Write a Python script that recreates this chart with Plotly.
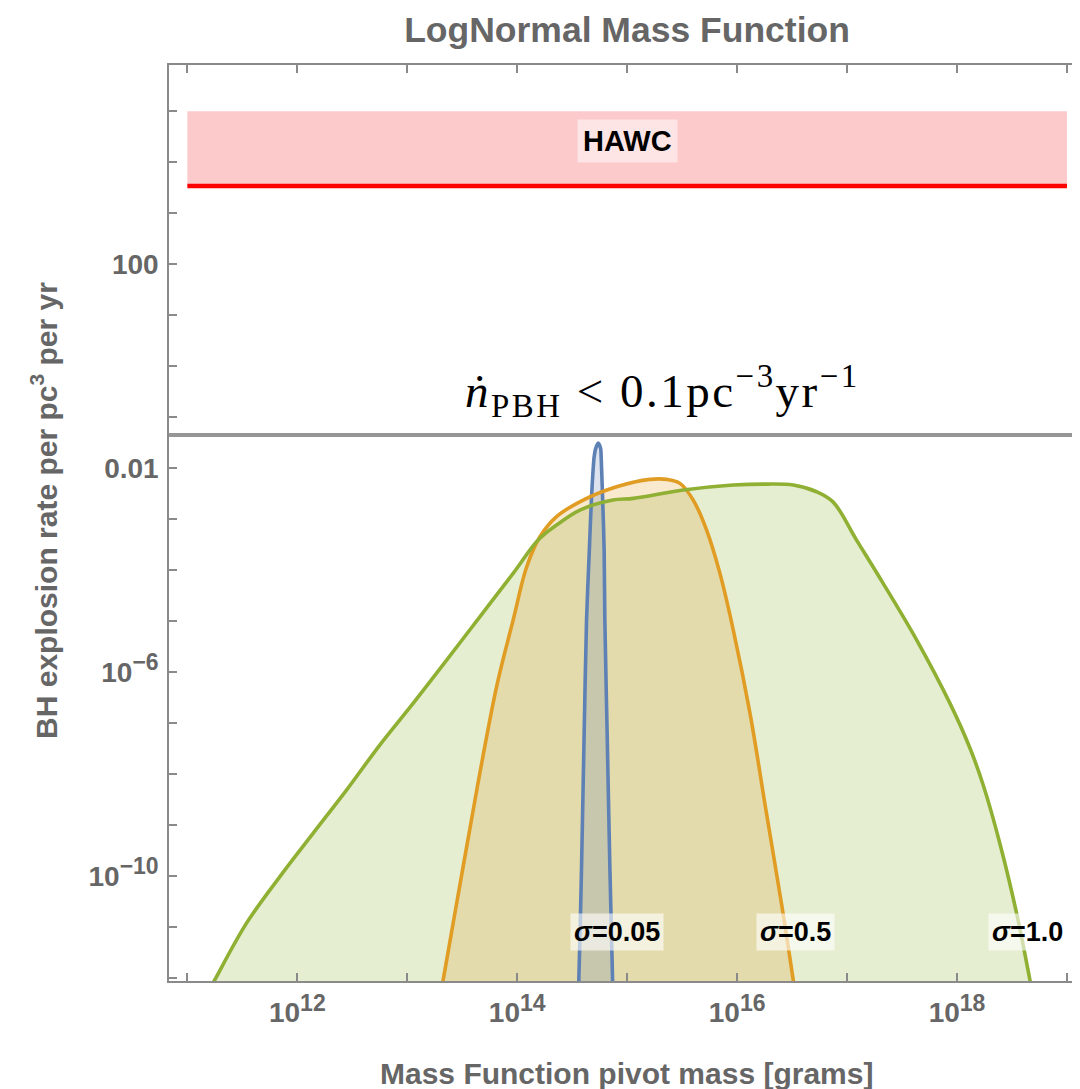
import math
import plotly.graph_objects as go

# ---------------- data ----------------
# sigma = 1.0 (green)
green_mass = [1.41e11, 1.77e11, 3.44e11, 6.92e11, 1.39e12, 2.80e12, 5.62e12, 1.13e13,
              2.28e13, 4.57e13, 9.18e13, 1.55e14, 2.28e14, 3.72e14, 7.41e14, 1.14e15,
              3.24e15, 9.23e15, 1.85e16, 3.24e16, 5.28e16, 7.48e16, 1.22e17, 2.13e17,
              4.30e17, 8.63e17, 1.31e18, 1.73e18, 2.46e18, 3.49e18, 4.61e18, 5.01e18]
green_rate = [3.76e-13, 9.27e-13, 1.20e-11, 9.82e-11, 6.97e-10, 4.92e-9, 3.76e-8, 2.47e-7,
              1.74e-6, 1.23e-5, 8.73e-5, 3.93e-4, 7.73e-4, 1.52e-3, 2.39e-3, 2.58e-3,
              3.76e-3, 4.71e-3, 4.92e-3, 4.71e-3, 3.48e-3, 2.18e-3, 3.93e-4, 5.56e-5,
              4.30e-6, 2.47e-7, 3.30e-8, 6.19e-9, 4.34e-10, 1.86e-11, 9.16e-13, 3.55e-13]

# sigma = 0.5 (orange)
orange_mass = [1.97e13, 2.12e13, 3.22e13, 4.57e13, 6.49e13, 9.18e13, 1.22e14, 1.61e14,
               2.28e14, 3.98e14, 8.02e14, 1.61e15, 2.29e15, 3.02e15, 3.99e15, 5.28e15,
               6.98e15, 9.23e15, 1.31e16, 1.85e16, 2.62e16, 3.24e16, 3.45e16]
orange_rate = [3.76e-13, 9.27e-13, 1.54e-10, 1.05e-8, 5.22e-7, 1.06e-5, 1.18e-4, 4.56e-4,
               1.13e-3, 2.39e-3, 4.36e-3, 6.08e-3, 6.08e-3, 5.08e-3, 2.39e-3, 6.17e-4,
               8.73e-5, 6.75e-6, 1.57e-7, 1.72e-9, 1.88e-11, 9.27e-13, 3.76e-13]

# sigma = 0.05 (blue)
blue_mass = [3.558e14, 3.634e14, 3.846e14, 4.062e14, 4.271e14, 4.529e14, 4.743e14, 5.009e14,
             5.168e14, 5.447e14, 5.740e14, 5.799e14, 5.973e14, 6.176e14, 6.267e14, 6.577e14,
             6.960e14, 7.366e14, 7.413e14]
blue_rate = [3.76e-13, 9.27e-13, 1.54e-10, 6.37e-8, 1.06e-5, 2.50e-4, 2.77e-3, 1.69e-2,
             2.44e-2, 3.13e-2, 2.44e-2, 1.69e-2, 2.77e-3, 2.50e-4, 1.06e-5, 6.37e-8,
             1.54e-10, 9.27e-13, 3.76e-13]

# HAWC limit band
hawc_mass = [1e11, 1e19]
hawc_limit = 3430.0
hawc_top = 1e5

# grey reference line
npbh_limit = 0.045
npbh_mass = [1e10, 1e20]

# labels
sigma_labels = ["<i>σ</i>=0.05", "<i>σ</i>=0.5", "<i>σ</i>=1.0"]
sigma_label_mass = [8.15e14, 3.43e16, 1.91e18]
sigma_label_rate = 8.1e-12

SUP = "<sup><span style='font-size:23px'>{}</span></sup>"
x_tick_vals = [1e11, 1e12, 1e13, 1e14, 1e15, 1e16, 1e17, 1e18, 1e19]
x_tick_text = ["", "10" + SUP.format("12"), "", "10" + SUP.format("14"), "",
               "10" + SUP.format("16"), "", "10" + SUP.format("18"), ""]
y_tick_vals = [10.0 ** k for k in range(-12, 6)]
y_tick_labels = {2: "100", -2: "0.01", -6: "10" + SUP.format("−6"),
                 -10: "10" + SUP.format("−10")}
y_tick_text = [y_tick_labels.get(k, "") for k in range(-12, 6)]

# ---------------- styling ----------------
BLUE = "#5E81B5"
ORANGE = "#E19C24"
GREEN = "#8FB032"
GREY_TXT = "#666666"
AXIS = "#8a8a8a"
SANS = "Liberation Sans, Arial, sans-serif"

X_RANGE = [10.833, 19.164]
Y_RANGE = [-12.05, 5.908]

fig = go.Figure()

# HAWC band
fig.add_trace(go.Scatter(
    x=[hawc_mass[0], hawc_mass[1], hawc_mass[1], hawc_mass[0], hawc_mass[0]],
    y=[hawc_limit, hawc_limit, hawc_top, hawc_top, hawc_limit],
    mode="lines", fill="toself", fillcolor="#FCCACA", line=dict(width=0),
    hoverinfo="skip", showlegend=False))
fig.add_trace(go.Scatter(
    x=hawc_mass, y=[hawc_limit, hawc_limit], mode="lines",
    line=dict(color="#FF0000", width=4.5), hoverinfo="skip", showlegend=False))

# grey n-dot line
fig.add_trace(go.Scatter(
    x=npbh_mass, y=[npbh_limit, npbh_limit], mode="lines",
    line=dict(color="#969696", width=4), hoverinfo="skip", showlegend=False))

series = [
    (green_mass, green_rate, GREEN, "rgba(143,176,50,0.22)", 1.0),
    (orange_mass, orange_rate, ORANGE, "rgba(225,156,36,0.22)", 1.0),
    (blue_mass, blue_rate, BLUE, "rgba(94,129,181,0.22)", 0.8),
]
# fills first
for xs, ys, col, fcol, sm in series:
    fig.add_trace(go.Scatter(
        x=xs, y=ys, mode="lines", fill="toself", fillcolor=fcol,
        line=dict(width=0, shape="spline", smoothing=sm),
        hoverinfo="skip", showlegend=False))
# lines: blue, orange, green (green on top)
for xs, ys, col, fcol, sm in reversed(series):
    fig.add_trace(go.Scatter(
        x=xs, y=ys, mode="lines",
        line=dict(color=col, width=3.6, shape="spline", smoothing=sm),
        hoverinfo="skip", showlegend=False))

# dummy trace for the right-hand tick marks
fig.add_trace(go.Scatter(x=[1e15], y=[1e-20], yaxis="y2", mode="markers",
                         marker=dict(opacity=0), hoverinfo="skip", showlegend=False))

annotations = []
# HAWC label
annotations.append(dict(
    x=math.log10(1e15), y=math.log10(2.6e4), xref="x", yref="y",
    text="<b>HAWC</b>", showarrow=False,
    font=dict(family=SANS, size=29, color="black"),
    bgcolor="rgba(255,255,255,0.5)", borderpad=5))
# sigma labels
for i, (txt, mx) in enumerate(zip(sigma_labels, sigma_label_mass)):
    annotations.append(dict(
        x=math.log10(mx), y=math.log10(sigma_label_rate), xref="x", yref="y",
        text="<b>" + txt + "</b>", showarrow=False,
        xanchor="left" if i == 2 else "center",
        font=dict(family=SANS, size=27, color="black"),
        bgcolor="rgba(255,255,255,0.6)", borderpad=3))
# n-dot annotation
annotations.append(dict(
    x=0.5384, y=0.6436, xref="paper", yref="paper", showarrow=False,
    text=("<span style='letter-spacing:2.5px'><i>ṅ</i><sub>PBH</sub> &lt; "
          "0.1pc<sup>−3</sup>yr<sup>−1</sup></span>"),
    font=dict(family="Liberation Serif, Times New Roman, serif", size=47, color="black"),
    xanchor="center", yanchor="middle"))
# axis titles
annotations.append(dict(
    x=0.4997, y=-0.1008, xref="paper", yref="paper", showarrow=False,
    text="Mass Function pivot mass [grams]",
    font=dict(family=SANS, size=30, color=GREY_TXT, weight="bold"),
    xanchor="center", yanchor="middle"))
annotations.append(dict(
    x=-0.1357, y=0.5139, xref="paper", yref="paper", showarrow=False,
    text="BH explosion rate per pc<sup>3</sup> per yr", textangle=-90,
    font=dict(family=SANS, size=30, color=GREY_TXT, weight="bold"),
    xanchor="center", yanchor="middle"))

fig.update_layout(
    width=1080, height=1089,
    margin=dict(l=161, r=3, t=57, b=116),
    paper_bgcolor="white", plot_bgcolor="white",
    title=dict(text="LogNormal Mass Function", x=0.5, xref="paper",
               y=1 - 22 / 1089, yref="container", xanchor="center", yanchor="middle",
               font=dict(family=SANS, size=35.5, color=GREY_TXT, weight="bold")),
    xaxis=dict(type="log", range=X_RANGE, tickvals=x_tick_vals, ticktext=x_tick_text,
               ticks="inside", ticklen=8, tickwidth=1.5, tickcolor=AXIS,
               showline=True, linecolor=AXIS, linewidth=1.5, mirror="ticks",
               showgrid=False, zeroline=False, ticklabelstandoff=6, automargin=False,
               tickfont=dict(family=SANS, size=28, color=GREY_TXT, weight="bold")),
    yaxis=dict(type="log", range=Y_RANGE, tickvals=y_tick_vals, ticktext=y_tick_text,
               ticks="inside", ticklen=8, tickwidth=1.5, tickcolor=AXIS,
               showline=True, linecolor=AXIS, linewidth=1.5, mirror=False,
               showgrid=False, zeroline=False, ticklabelstandoff=3, automargin=False,
               tickfont=dict(family=SANS, size=28, color=GREY_TXT, weight="bold")),
    yaxis2=dict(type="log", range=Y_RANGE, tickvals=y_tick_vals,
                ticktext=["" for _ in y_tick_vals], overlaying="y", side="right",
                ticks="inside", ticklen=8, tickwidth=1.5, tickcolor=AXIS,
                showline=False, showgrid=False, zeroline=False, showticklabels=False,
                automargin=False),
    annotations=annotations,
    showlegend=False,
)

fig.write_html("out.html")
